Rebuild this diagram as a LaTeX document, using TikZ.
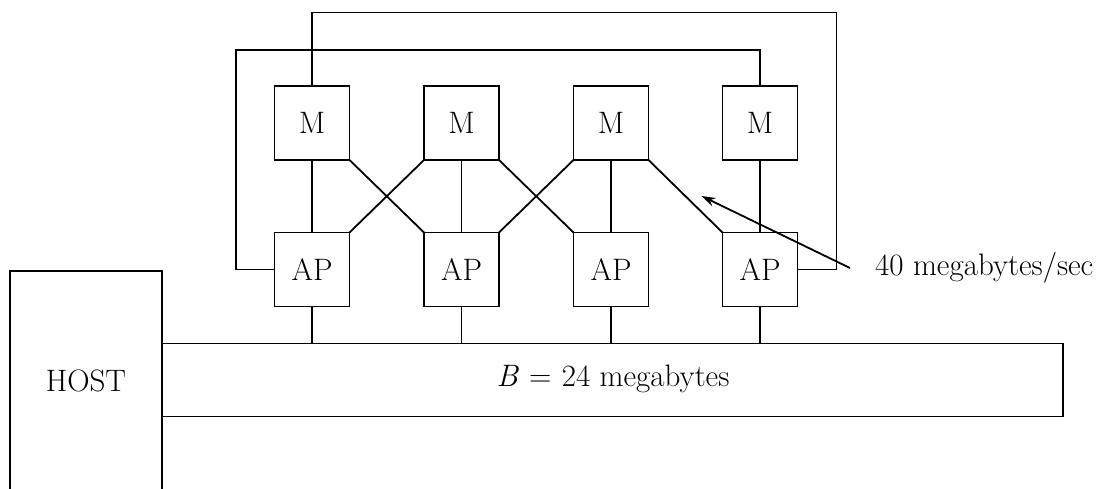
\documentclass[tikz,border=0pt]{standalone}
\usetikzlibrary{arrows.meta}
\begin{document}
\begin{tikzpicture}[x=1pt,y=-1pt,
  every node/.style={font=\fontsize{31}{35}\selectfont},
  unit/.style={draw,line width=1.8pt,minimum width=75pt,minimum height=74pt,inner sep=0pt,outer sep=0pt},
  wire/.style={line width=1.8pt},
  lbl/.style={inner sep=0pt}]
\useasboundingbox (0,0) rectangle (1101,489);
\clip (0,0) rectangle (1101,489);
% M and AP nodes
\foreach \i/\x in {1/312,2/461.5,3/611,4/760}{
  \node[unit] (M\i) at (\x,123) {M};
  \node[unit] (AP\i) at (\x,269.5) {AP};
}
% Host and bus
\node[draw,line width=1.8pt,minimum width=152pt,minimum height=260pt,anchor=north west,inner sep=0pt,outer sep=0pt] (host) at (10,271) {};
\node[lbl] (hosttxt) at (86,381) {HOST};
\node[draw,line width=1.8pt,minimum width=901pt,minimum height=73pt,anchor=north west,inner sep=0pt,outer sep=0pt] (bus) at (162,343.5) {};
\node[lbl] (bustxt) at (613,379) {\textit{B}\,\,=\,\,24 megabytes};
% vertical links
\foreach \i in {1,2,3,4}{
  \draw[wire] (M\i.south) -- (AP\i.north);
  \draw[wire] (AP\i.south) -- (AP\i.south |- bus.north);
}
% crossing links
\draw[wire] (M1.south east) -- (AP2.north west);
\draw[wire] (M2.south west) -- (AP1.north east);
\draw[wire] (M2.south east) -- (AP3.north west);
\draw[wire] (M3.south west) -- (AP2.north east);
\draw[wire] (M3.south east) -- (AP4.north west);
% loops
\coordinate (o1) at (312,12.5);
\coordinate (o2) at (836.5,12.5);
\coordinate (i1) at (236,50);
\coordinate (i2) at (760,50);
\draw[wire] (M1.north) -- (M1.north |- o1) -- (o2) |- (AP4.east);
\draw[wire] (AP1.west) -| (i1) -- (i2) -- (M4.north);
% arrow label
\node[lbl,anchor=west] (rate) at (875,268) {40 megabytes/sec};
\coordinate (tip) at (701.5,196);
\draw[line width=1.8pt,-{Stealth[length=14pt,width=9pt]}] (850,268) -- (tip);
\end{tikzpicture}
\end{document}
